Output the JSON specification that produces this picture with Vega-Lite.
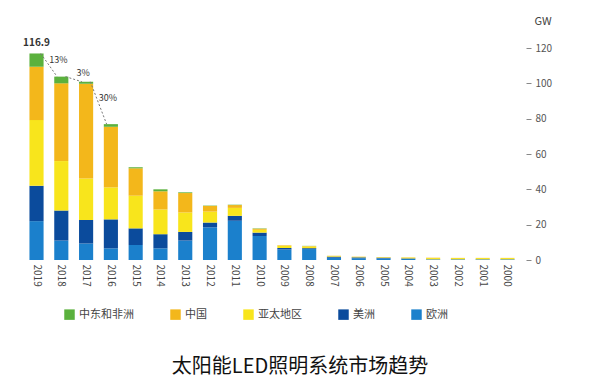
{
  "$schema": "https://vega.github.io/schema/vega-lite/v6.json",
  "autosize": "none",
  "width": 496,
  "height": 212,
  "padding": {"left": 24, "top": 48, "right": 80, "bottom": 124},
  "background": "white",
  "config": {
    "font": "Noto Sans CJK SC",
    "view": {"stroke": null},
    "axisY": {
      "orient": "right", "title": "GW", "titleAngle": 0, "titleX": 8, "titleY": -22,
      "titleFontSize": 11, "titleFontWeight": "normal", "titleColor": "#444444",
      "titleAlign": "left", "tickCount": 7,
      "grid": false, "domain": false, "labelOverlap": false,
      "tickSize": 5, "tickColor": "#888888", "offset": 6,
      "labelFontSize": 10, "labelColor": "#555555", "labelPadding": 4
    },
    "axisX": {
      "title": null, "labelAngle": 90, "domain": false, "ticks": false,
      "labelFontSize": 10, "labelColor": "#444444", "labelPadding": 4
    }
  },
  "title": {
    "text": "太阳能LED照明系统市场趋势",
    "orient": "bottom",
    "anchor": "middle",
    "offset": 37,
    "dx": 28,
    "fontSize": 20,
    "fontWeight": "normal",
    "color": "#111111",
    "font": "Noto Sans CJK SC"
  },
  "datasets": {
    "regions": [
      {"region": "欧洲", "rank": 1},
      {"region": "美洲", "rank": 2},
      {"region": "亚太地区", "rank": 3},
      {"region": "中国", "rank": 4},
      {"region": "中东和非洲", "rank": 5}
    ],
    "bars": [
      {"year": "2019", "region": "欧洲", "value": 22}, {"year": "2019", "region": "美洲", "value": 20}, {"year": "2019", "region": "亚太地区", "value": 37.2}, {"year": "2019", "region": "中国", "value": 30.2}, {"year": "2019", "region": "中东和非洲", "value": 7.5},
      {"year": "2018", "region": "欧洲", "value": 11}, {"year": "2018", "region": "美洲", "value": 17}, {"year": "2018", "region": "亚太地区", "value": 28}, {"year": "2018", "region": "中国", "value": 44}, {"year": "2018", "region": "中东和非洲", "value": 3.8},
      {"year": "2017", "region": "欧洲", "value": 9.4}, {"year": "2017", "region": "美洲", "value": 13.2}, {"year": "2017", "region": "亚太地区", "value": 23.6}, {"year": "2017", "region": "中国", "value": 53.6}, {"year": "2017", "region": "中东和非洲", "value": 1.1},
      {"year": "2016", "region": "欧洲", "value": 6.6}, {"year": "2016", "region": "美洲", "value": 16.4}, {"year": "2016", "region": "亚太地区", "value": 18.1}, {"year": "2016", "region": "中国", "value": 34.3}, {"year": "2016", "region": "中东和非洲", "value": 1.5},
      {"year": "2015", "region": "欧洲", "value": 8.5}, {"year": "2015", "region": "美洲", "value": 9.4}, {"year": "2015", "region": "亚太地区", "value": 18.5}, {"year": "2015", "region": "中国", "value": 15.5}, {"year": "2015", "region": "中东和非洲", "value": 0.6},
      {"year": "2014", "region": "欧洲", "value": 6.6}, {"year": "2014", "region": "美洲", "value": 8}, {"year": "2014", "region": "亚太地区", "value": 14}, {"year": "2014", "region": "中国", "value": 10.3}, {"year": "2014", "region": "中东和非洲", "value": 1.1},
      {"year": "2013", "region": "欧洲", "value": 11}, {"year": "2013", "region": "美洲", "value": 4.9}, {"year": "2013", "region": "亚太地区", "value": 11}, {"year": "2013", "region": "中国", "value": 11}, {"year": "2013", "region": "中东和非洲", "value": 0.4},
      {"year": "2012", "region": "欧洲", "value": 18.5}, {"year": "2012", "region": "美洲", "value": 2.7}, {"year": "2012", "region": "亚太地区", "value": 6.2}, {"year": "2012", "region": "中国", "value": 3.2}, {"year": "2012", "region": "中东和非洲", "value": 0.2},
      {"year": "2011", "region": "欧洲", "value": 22.2}, {"year": "2011", "region": "美洲", "value": 2.8}, {"year": "2011", "region": "亚太地区", "value": 4.5}, {"year": "2011", "region": "中国", "value": 1.6}, {"year": "2011", "region": "中东和非洲", "value": 0.2},
      {"year": "2010", "region": "欧洲", "value": 13.6}, {"year": "2010", "region": "美洲", "value": 1.9}, {"year": "2010", "region": "亚太地区", "value": 1.6}, {"year": "2010", "region": "中国", "value": 0.6}, {"year": "2010", "region": "中东和非洲", "value": 0.2},
      {"year": "2009", "region": "欧洲", "value": 6}, {"year": "2009", "region": "美洲", "value": 0.8}, {"year": "2009", "region": "亚太地区", "value": 1.2}, {"year": "2009", "region": "中国", "value": 0.3}, {"year": "2009", "region": "中东和非洲", "value": 0.1},
      {"year": "2008", "region": "欧洲", "value": 6.2}, {"year": "2008", "region": "美洲", "value": 0.5}, {"year": "2008", "region": "亚太地区", "value": 1}, {"year": "2008", "region": "中国", "value": 0.2}, {"year": "2008", "region": "中东和非洲", "value": 0.1},
      {"year": "2007", "region": "欧洲", "value": 1.3}, {"year": "2007", "region": "美洲", "value": 0.6}, {"year": "2007", "region": "亚太地区", "value": 0.4}, {"year": "2007", "region": "中国", "value": 0.1},
      {"year": "2006", "region": "欧洲", "value": 1}, {"year": "2006", "region": "美洲", "value": 0.5}, {"year": "2006", "region": "亚太地区", "value": 0.3}, {"year": "2006", "region": "中国", "value": 0.1},
      {"year": "2005", "region": "欧洲", "value": 0.9}, {"year": "2005", "region": "美洲", "value": 0.4}, {"year": "2005", "region": "亚太地区", "value": 0.3}, {"year": "2005", "region": "中国", "value": 0.1},
      {"year": "2004", "region": "欧洲", "value": 0.6}, {"year": "2004", "region": "美洲", "value": 0.3}, {"year": "2004", "region": "亚太地区", "value": 0.5}, {"year": "2004", "region": "中国", "value": 0.1},
      {"year": "2003", "region": "欧洲", "value": 0.3}, {"year": "2003", "region": "美洲", "value": 0.1}, {"year": "2003", "region": "亚太地区", "value": 0.7}, {"year": "2003", "region": "中国", "value": 0.2},
      {"year": "2002", "region": "欧洲", "value": 0.3}, {"year": "2002", "region": "美洲", "value": 0.1}, {"year": "2002", "region": "亚太地区", "value": 0.7}, {"year": "2002", "region": "中国", "value": 0.1},
      {"year": "2001", "region": "欧洲", "value": 0.3}, {"year": "2001", "region": "美洲", "value": 0.1}, {"year": "2001", "region": "亚太地区", "value": 0.7}, {"year": "2001", "region": "中国", "value": 0.1},
      {"year": "2000", "region": "欧洲", "value": 0.3}, {"year": "2000", "region": "美洲", "value": 0.1}, {"year": "2000", "region": "亚太地区", "value": 0.7}, {"year": "2000", "region": "中国", "value": 0.1}
    ],
    "totals": [
      {"year": "2019", "total": 116.9, "label": "116.9"}
    ],
    "growth": [
      {"year": "2018", "y": 113, "label": "13%"},
      {"year": "2017", "y": 105.8, "label": "3%"},
      {"year": "2016", "y": 91.7, "label": "30%"}
    ],
    "links": [
      {"from": "2019", "to": "2018", "v1": 116.9, "v2": 103.8},
      {"from": "2018", "to": "2017", "v1": 103.8, "v2": 100.9},
      {"from": "2017", "to": "2016", "v1": 100.9, "v2": 76.9}
    ]
  },
  "layer": [
    {
      "data": {"name": "bars"},
      "transform": [
        {"lookup": "region", "from": {"data": {"name": "regions"}, "key": "region", "fields": ["rank"]}}
      ],
      "mark": {"type": "bar"},
      "encoding": {
        "x": {
          "field": "year", "type": "ordinal",
          "scale": {
            "domain": ["2019", "2018", "2017", "2016", "2015", "2014", "2013", "2012", "2011", "2010", "2009", "2008", "2007", "2006", "2005", "2004", "2003", "2002", "2001", "2000"],
            "paddingInner": 0.43, "paddingOuter": 0.22
          },
          "axis": {"title": null}
        },
        "y": {
          "field": "value", "type": "quantitative", "aggregate": "sum", "stack": "zero",
          "scale": {"domain": [0, 120], "nice": false},
          "axis": {"orient": "right", "title": "GW", "values": [0, 20, 40, 60, 80, 100, 120]}
        },
        "order": {"field": "rank", "type": "quantitative", "sort": "ascending"},
        "color": {
          "field": "region", "type": "nominal",
          "scale": {
            "domain": ["欧洲", "美洲", "亚太地区", "中国", "中东和非洲"],
            "range": ["#1b80cc", "#0b4b9c", "#f8e51c", "#f3b71b", "#5bb13d"]
          },
          "legend": {
            "title": null, "orient": "none", "direction": "horizontal",
            "legendX": 40, "legendY": 261,
            "values": ["中东和非洲", "中国", "亚太地区", "美洲", "欧洲"],
            "symbolType": "square", "symbolSize": 110, "symbolStrokeWidth": 0,
            "labelFontSize": 11, "labelColor": "#444444", "columnPadding": 36,
            "labelFont": "Noto Sans CJK SC"
          }
        }
      }
    },
    {
      "data": {"name": "links"},
      "mark": {"type": "rule", "strokeDash": [2, 2], "color": "#777777", "strokeWidth": 1},
      "encoding": {
        "x": {"field": "from", "type": "ordinal", "bandPosition": 0.8, "axis": {"title": null}},
        "x2": {"field": "to", "bandPosition": 0.2},
        "y": {"field": "v1", "type": "quantitative", "axis": {"orient": "right", "title": "GW", "values": [0, 20, 40, 60, 80, 100, 120]}},
        "y2": {"field": "v2"}
      }
    },
    {
      "data": {"name": "totals"},
      "mark": {"type": "text", "dy": -10, "fontSize": 10, "fontWeight": "bold", "color": "#333333"},
      "encoding": {
        "x": {"field": "year", "type": "ordinal", "axis": {"title": null}},
        "y": {"field": "total", "type": "quantitative", "axis": {"orient": "right", "title": "GW", "values": [0, 20, 40, 60, 80, 100, 120]}},
        "text": {"field": "label"}
      }
    },
    {
      "data": {"name": "growth"},
      "mark": {"type": "text", "dx": -3, "fontSize": 9, "color": "#333333"},
      "encoding": {
        "x": {"field": "year", "type": "ordinal", "axis": {"title": null}},
        "y": {"field": "y", "type": "quantitative", "axis": {"orient": "right", "title": "GW", "values": [0, 20, 40, 60, 80, 100, 120]}},
        "text": {"field": "label"}
      }
    }
  ]
}
